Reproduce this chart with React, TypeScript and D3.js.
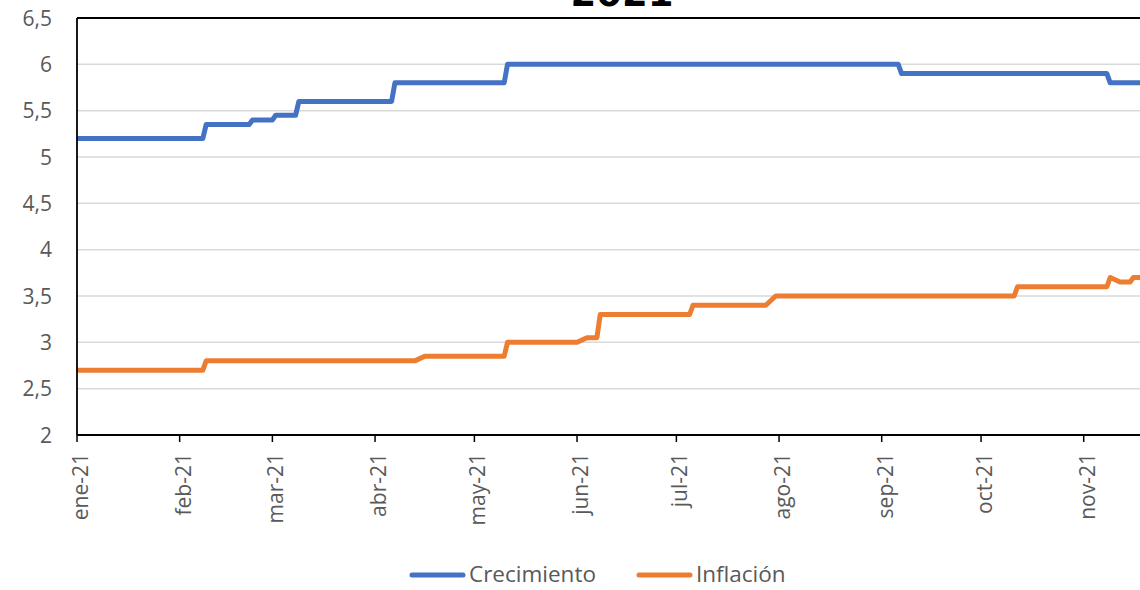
import React from "react";
import * as d3 from "d3";

const yTicks = [2, 2.5, 3, 3.5, 4, 4.5, 5, 5.5, 6, 6.5];
const monthTicks = ["2021-01-01","2021-02-01","2021-03-01","2021-04-01","2021-05-01","2021-06-01","2021-07-01","2021-08-01","2021-09-01","2021-10-01","2021-11-01"];
const monthLabels = ["ene-21","feb-21","mar-21","abr-21","may-21","jun-21","jul-21","ago-21","sep-21","oct-21","nov-21"];

const crecimientoDates = ["2021-01-01","2021-02-08","2021-02-09","2021-02-22","2021-02-23","2021-03-01","2021-03-02","2021-03-08","2021-03-09","2021-04-06","2021-04-07","2021-05-10","2021-05-11","2021-09-06","2021-09-07","2021-11-08","2021-11-09","2021-11-18"];
const crecimientoValues = [5.2,5.2,5.35,5.35,5.4,5.4,5.45,5.45,5.6,5.6,5.8,5.8,6.0,6.0,5.9,5.9,5.8,5.8];

const inflacionDates = ["2021-01-01","2021-02-08","2021-02-09","2021-04-13","2021-04-16","2021-05-10","2021-05-11","2021-06-01","2021-06-04","2021-06-07","2021-06-08","2021-07-05","2021-07-06","2021-07-28","2021-07-31","2021-10-11","2021-10-12","2021-11-08","2021-11-09","2021-11-12","2021-11-15","2021-11-16","2021-11-18"];
const inflacionValues = [2.7,2.7,2.8,2.8,2.85,2.85,3.0,3.0,3.05,3.05,3.3,3.3,3.4,3.4,3.5,3.5,3.6,3.6,3.7,3.65,3.65,3.7,3.7];

const seriesNames = ["Crecimiento", "Inflación"];
const seriesColors = ["#4472C4", "#ED7D31"];

const W = 1140, H = 590;
const left = 77, right = 1140, top = 18, bottom = 435;
const font = "'Open Sans', sans-serif";
const textColor = "#595959";

export default function App() {
  const parse = d3.utcParse("%Y-%m-%d");
  const x = d3.scaleUtc().domain([parse("2021-01-01")!, parse("2021-11-18")!]).range([left, right]);
  const y = d3.scaleLinear().domain([2, 6.5]).range([bottom, top]);
  const line = d3.line<[Date, number]>().x(d => x(d[0])).y(d => y(d[1]));

  const series = [
    crecimientoDates.map((d, i) => [parse(d)!, crecimientoValues[i]] as [Date, number]),
    inflacionDates.map((d, i) => [parse(d)!, inflacionValues[i]] as [Date, number]),
  ];

  return (
    <svg width={W} height={H} style={{ position: "absolute", left: 0, top: 0, background: "#fff" }}>
      <defs>
        <clipPath id="plotclip">
          <rect x={left} y={0} width={right - left} height={H} />
        </clipPath>
      </defs>
      <rect x={0} y={0} width={W} height={H} fill="#fff" />
      <text x={622} y={5.5} textAnchor="middle" fontFamily="'DejaVu Sans', sans-serif" fontWeight={900} fontSize={37} fill="#000">2021</text>
      {yTicks.filter(t => t > 2 && t < 6.5).map(t => (
        <line key={t} x1={left} x2={right} y1={y(t)} y2={y(t)} stroke="#d9d9d9" strokeWidth={1.5} />
      ))}
      <line x1={left} x2={right} y1={y(6.5)} y2={y(6.5)} stroke="#000" strokeWidth={1.8} />
      {yTicks.map(t => (
        <text key={t} x={52} y={y(t)} dy="0.36em" textAnchor="end" fontFamily={font} fontSize={21} fill={textColor}>
          {d3.format(".1f")(t).replace(/\.0$/, "").replace(".", ",")}
        </text>
      ))}
      <g clipPath="url(#plotclip)">
        {series.map((s, i) => (
          <path key={i} d={line(s) || ""} fill="none" stroke={seriesColors[i]} strokeWidth={5} strokeLinejoin="round" strokeLinecap="round" />
        ))}
      </g>
      <line x1={left} x2={left} y1={top} y2={bottom} stroke="#000" strokeWidth={1.8} />
      <line x1={left} x2={right} y1={bottom} y2={bottom} stroke="#000" strokeWidth={1.8} />
      {monthTicks.map((m, i) => {
        const xp = x(parse(m)!);
        return (
          <g key={m}>
            <line x1={xp} x2={xp} y1={bottom} y2={bottom + 7} stroke="#000" strokeWidth={1.5} />
            <text transform={`translate(${xp + 11},${bottom + 18}) rotate(-90)`} textAnchor="end" fontFamily={font} fontSize={21} fill={textColor}>
              {monthLabels[i]}
            </text>
          </g>
        );
      })}
      {seriesNames.map((n, i) => {
        const lx = i === 0 ? 410 : 637;
        return (
          <g key={n}>
            <line x1={lx + 2} x2={lx + 53} y1={575} y2={575} stroke={seriesColors[i]} strokeWidth={5} strokeLinecap="round" />
            <text x={lx + 59} y={582} fontFamily={font} fontSize={22.5} fill={textColor}>{n}</text>
          </g>
        );
      })}
    </svg>
  );
}
